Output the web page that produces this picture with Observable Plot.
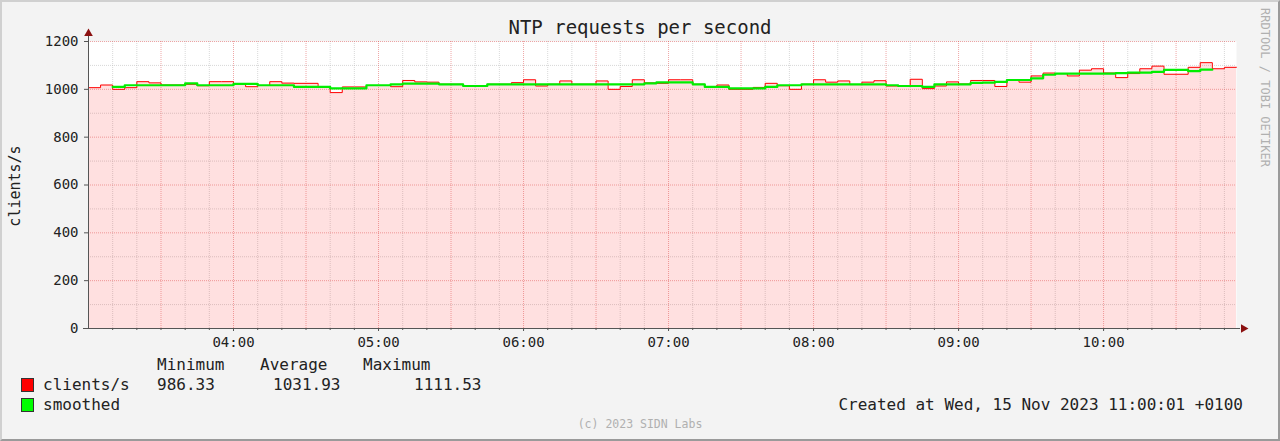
<!DOCTYPE html>
<html><head><meta charset="utf-8">
<script src="https://cdn.jsdelivr.net/npm/d3@7"></script>
<script src="https://cdn.jsdelivr.net/npm/@observablehq/plot@0.6"></script>
<style>
html,body{margin:0;padding:0;background:#f3f3f3;}
#wrap{position:relative;width:1280px;height:441px;overflow:hidden;font-family:"DejaVu Sans Mono",monospace;color:#222;background:#f3f3f3;}
#chart{position:absolute;left:0;top:0;}
#frame{position:absolute;left:0;top:0;width:1276px;height:437px;border-top:2px solid #d0d0d0;border-left:2px solid #d0d0d0;border-right:2px solid #9a9a9a;border-bottom:2px solid #9a9a9a;pointer-events:none;}
.t{position:absolute;white-space:pre;line-height:1;}
.box{position:absolute;width:11px;height:12px;border:1px solid #333;}
</style></head><body>
<div id="wrap">
  <div id="chart"></div>
  <div class="t" style="left:0;width:1280px;text-align:center;top:18px;font-size:19px;">NTP requests per second</div>
  <div class="t" style="left:15px;top:186px;font-size:15px;transform:translate(-50%,-50%) rotate(-90deg);">clients/s</div>
  <div class="t" style="left:1259px;top:8px;font-size:12px;color:#b0b0b0;writing-mode:vertical-rl;">RRDTOOL / TOBI OETIKER</div>
  <div id="legend"></div>
  <div class="t" style="right:37px;top:397px;font-size:16px;">Created at Wed, 15 Nov 2023 11:00:01 +0100</div>
  <div class="t" style="left:0;width:1280px;text-align:center;top:419px;font-size:11.5px;color:#b0b0b0;">(c) 2023 SIDN Labs</div>
  <div id="frame"></div>
</div>
<script>
// ---- data ----
const startTime = "2023-11-15T03:00:00Z";
const stepMinutes = 5;
const clients = [
  1007, 1018, 1000, 1007, 1032, 1027, 1018, 1018, 1021, 1015,
  1032, 1032, 1022, 1011, 1016, 1032, 1026, 1025, 1025, 1010,
  986.33, 1010, 1010, 1016, 1016, 1011, 1037, 1031, 1030, 1021,
  1021, 1014, 1014, 1021, 1021, 1028, 1040, 1014, 1021, 1035,
  1021, 1021, 1035, 1000, 1012, 1040, 1027, 1025, 1040, 1040,
  1021, 1010, 1018, 1000, 1000, 1008, 1025, 1015, 1000, 1021,
  1040, 1030, 1035, 1020, 1030, 1036, 1014, 1014, 1042, 1003,
  1014, 1031, 1022, 1037, 1037, 1012, 1039, 1030, 1056, 1068,
  1066, 1056, 1080, 1086, 1068, 1049, 1066, 1086, 1097, 1063,
  1063, 1092, 1111.53, 1086, 1092
];
const smoothed = [
  null, null, 1010, 1017, 1017, 1017, 1017, 1017, 1025, 1017,
  1017, 1017, 1023, 1023, 1017, 1017, 1017, 1010, 1010, 1010,
  1004, 1004, 1004, 1017, 1017, 1021, 1024, 1024, 1024, 1021,
  1021, 1014, 1014, 1021, 1021, 1021, 1021, 1021, 1021, 1021,
  1021, 1021, 1021, 1021, 1021, 1021, 1025, 1029, 1029, 1029,
  1021, 1010, 1010, 1004, 1004, 1004, 1010, 1017, 1017, 1021,
  1021, 1021, 1021, 1021, 1021, 1021, 1017, 1014, 1014, 1010,
  1021, 1021, 1021, 1027, 1028, 1031, 1039, 1039, 1046, 1061,
  1066, 1066, 1066, 1066, 1066, 1068, 1070, 1070, 1073, 1081,
  1081, 1076, 1082, null, null
];
const legendHeader = ["Minimum", "Average", "Maximum"];
const legendRows = [
  {name: "clients/s", color: "#ff0000", stats: ["986.33", "1031.93", "1111.53"]},
  {name: "smoothed", color: "#00ff00", stats: []}
];
const yLabelTicks = [0, 200, 400, 600, 800, 1000, 1200];
const yMinorTicks = [100, 300, 500, 700, 900, 1100];

// ---- build ----
const t0 = new Date(startTime);
const tAt = i => new Date(+t0 + i * stepMinutes * 60000);
const t1 = tAt(clients.length);
function stepRows(vals) {
  const rows = [];
  vals.forEach((v, i) => {
    if (v == null) { rows.push({t: tAt(i), v: null}); return; }
    rows.push({t: tAt(i), v});
    if (i === vals.length - 1 || vals[i + 1] == null) rows.push({t: tAt(i + 1), v});
  });
  return rows;
}
const clientRows = stepRows(clients);
const smoothRows = stepRows(smoothed);
const xMinor = d3.utcMinute.every(10).range(new Date(+t0 + 1), t1).filter(d => d.getUTCMinutes() % 30 !== 0);
const xMajor = d3.utcMinute.every(30).range(new Date(+t0 + 1), t1);
const xLabels = d3.utcHour.every(1).range(new Date(+t0 + 1), t1);

const minorGrid = {stroke: "#b8b8b8", strokeOpacity: 0.55, strokeDasharray: "1,1"};
const majorGrid = {stroke: "#e05050", strokeOpacity: 0.5, strokeDasharray: "1,1"};
const arrowColor = "#8b1010";

const chart = Plot.plot({
  width: 1280, height: 441,
  marginLeft: 88, marginRight: 44, marginTop: 41, marginBottom: 113,
  style: {background: "transparent", fontFamily: "DejaVu Sans Mono, monospace", fontSize: "14px", color: "#222"},
  x: {type: "utc", domain: [t0, t1]},
  y: {domain: [0, 1200]},
  marks: [
    Plot.frame({fill: "white", stroke: "none"}),
    Plot.ruleY(yMinorTicks, minorGrid),
    Plot.ruleX(xMinor, minorGrid),
    Plot.areaY(clientRows, {x: "t", y: "v", curve: "step-after", fill: "#ff0000", fillOpacity: 0.12}),
    Plot.ruleY(yLabelTicks.filter(d => d > 0), majorGrid),
    Plot.ruleX(xMajor, majorGrid),
    Plot.line(clientRows, {x: "t", y: "v", curve: "step-after", stroke: "#ff0000", strokeWidth: 1}),
    Plot.line(smoothRows, {x: "t", y: "v", curve: "step-after", stroke: "#00ee00", strokeWidth: 2.2}),
    Plot.ruleY([0], {stroke: "#555", insetLeft: -5, insetRight: -4}),
    Plot.ruleX([t0], {stroke: "#555", insetTop: -7}),
    Plot.dot([{t: t1, v: 0}], {x: "t", y: "v", symbol: "triangle", rotate: 90, r: 3.2, fill: arrowColor, stroke: "none", dx: 7}),
    Plot.dot([{t: t0, v: 1200}], {x: "t", y: "v", symbol: "triangle", r: 3.2, fill: arrowColor, stroke: "none", dy: -8}),
    Plot.axisY(yLabelTicks, {tickSize: 4, tickPadding: 6, tickFormat: d3.format("d"), label: null, fontSize: 14, stroke: "#555"}),
    Plot.axisX(xMinor.concat(xMajor), {tickSize: 2, tickFormat: () => "", label: null, stroke: "#555"}),
    Plot.axisX(xLabels, {tickSize: 3, tickPadding: 6, tickFormat: d3.utcFormat("%H:%M"), label: null, fontSize: 14, stroke: "#555"})
  ]
});
document.getElementById("chart").appendChild(chart);

// ---- legend ----
const lg = document.getElementById("legend");
const statX = [157, 260, 363];
const statValX = [157, 273, 414];
legendHeader.forEach((h, i) => {
  const d = document.createElement("div");
  d.className = "t"; d.style.left = statX[i] + "px"; d.style.top = "357px"; d.style.fontSize = "16px";
  d.textContent = h; lg.appendChild(d);
});
legendRows.forEach((r, j) => {
  const top = 377 + j * 20;
  const b = document.createElement("div");
  b.className = "box"; b.style.left = "21px"; b.style.top = (top + 1) + "px"; b.style.background = r.color;
  lg.appendChild(b);
  const n = document.createElement("div");
  n.className = "t"; n.style.left = "43px"; n.style.top = top + "px"; n.style.fontSize = "16px";
  n.textContent = r.name; lg.appendChild(n);
  r.stats.forEach((s, i) => {
    const d = document.createElement("div");
    d.className = "t"; d.style.left = statValX[i] + "px"; d.style.top = top + "px"; d.style.fontSize = "16px";
    d.textContent = s; lg.appendChild(d);
  });
});
</script>
</body></html>
